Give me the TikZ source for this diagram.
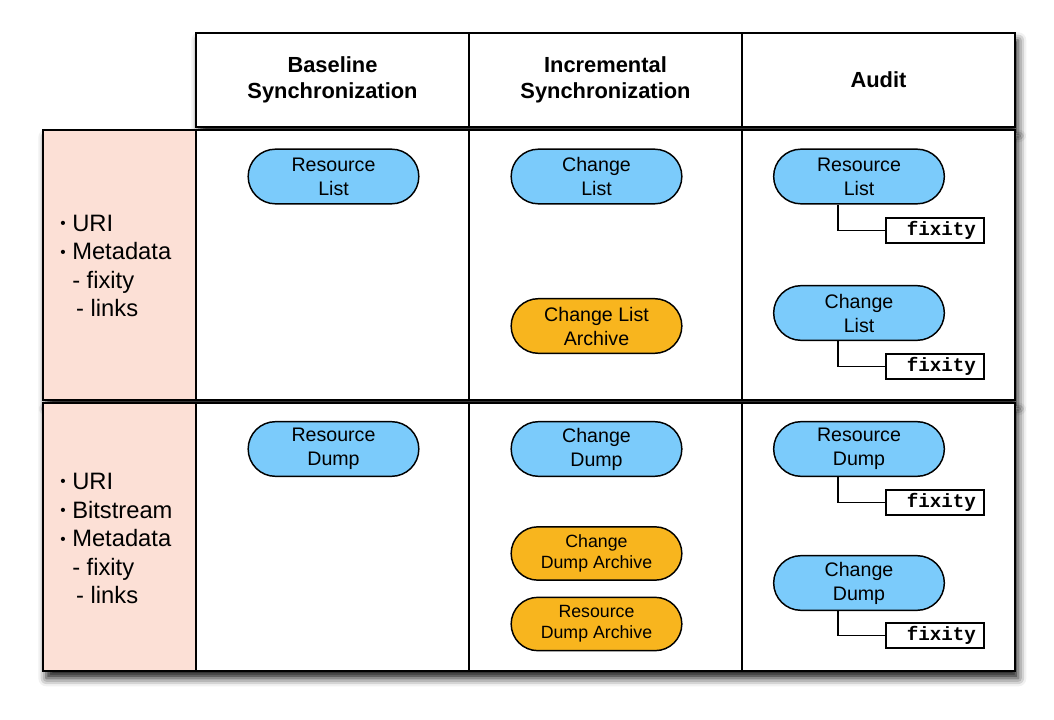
\documentclass[tikz,border=0pt]{standalone}
\usepackage{fontspec}
\setmainfont{Liberation Sans}
\setmonofont{Liberation Mono}
\usetikzlibrary{positioning,shapes.misc,shadows.blur}
\definecolor{RSBlue}{HTML}{7BCBFB}
\definecolor{RSOrange}{HTML}{F8B51E}
\definecolor{RSPink}{HTML}{FCE0D6}
\newcommand{\smallbul}{\raisebox{0.2ex}{\scalebox{0.65}{\textbullet}}}

\begin{document}
\begin{tikzpicture}[x=0.75pt,y=-0.75pt]
  \tikzstyle{rowbox}=[fill=white,blur shadow={shadow xshift=2.5pt,shadow yshift=-5.5pt,
    shadow blur radius=6pt,shadow opacity=90}]
  \tikzstyle{rule}=[draw=black,line width=1.5pt]
  \tikzstyle{headtext}=[align=center,font=\bfseries\fontsize{16.4}{19.5}\selectfont]
  \tikzstyle{sidetext}=[align=left,anchor=west,inner sep=0pt,
    font=\fontsize{17.8}{21.4}\selectfont]
  \tikzstyle{rsdoc}=[rounded rectangle,draw=black,line width=1.1pt,fill=RSBlue,
    minimum width=128pt,minimum height=41pt,inner sep=0pt,align=center,
    font=\fontsize{14.7}{18}\selectfont]
  \tikzstyle{rsarchive}=[rsdoc,fill=RSOrange]
  \tikzstyle{smallarchive}=[rsarchive,minimum height=40pt,font=\fontsize{13.3}{15.75}\selectfont]
  \tikzstyle{fixbox}=[draw=black,line width=1.4pt,fill=white,minimum width=73.5pt,
    minimum height=18.75pt,inner sep=0pt,text width=61.5pt,align=right,
    font=\ttfamily\bfseries\fontsize{14.4}{14}\selectfont]
  \tikzstyle{link}=[draw=black,line width=1.1pt]

  \useasboundingbox (0,0) rectangle (1054,720);

  % table frame
  \path[rowbox] (196,33) rectangle (1015,127);
  \path[rowbox] (43,130) rectangle (1015,400);
  \path[rowbox] (43,403) rectangle (1015,671);
  \fill[RSPink] (43,130) rectangle (196,400);
  \fill[RSPink] (43,403) rectangle (196,671);
  \draw[rule] (196,33) rectangle (1015,127);
  \draw[rule] (43,130) rectangle (1015,400);
  \draw[rule] (43,403) rectangle (1015,671);
  \draw[rule] (469,33) -- (469,127) (742,33) -- (742,127);
  \draw[rule] (196,130) -- (196,400) (469,130) -- (469,400) (742,130) -- (742,400);
  \draw[rule] (196,403) -- (196,671) (469,403) -- (469,671) (742,403) -- (742,671);

  \node[headtext] (hbase) at (332.5,80) {Baseline\\Synchronization};
  \node[headtext] (hinc) at (605.5,80) {Incremental\\Synchronization};
  \node[headtext] (haudit) at (878.5,80) {Audit};

  \node[sidetext] (meta) at (60,266) {\smallbul\ URI\\\smallbul\ Metadata\\
    \phantom{\smallbul}\ - fixity\\\phantom{\smallbul}\ \,- links};
  \node[sidetext] (bits) at (60,538.5) {\smallbul\ URI\\\smallbul\ Bitstream\\
    \smallbul\ Metadata\\\phantom{\smallbul}\ - fixity\\\phantom{\smallbul}\ \,- links};

  % lists
  \node[rsdoc] (brl) at (333.5,176.5) {Resource\\List};
  \node[rsdoc] (icl) at (596.5,176.5) {Change\\List};
  \node[rsarchive] (icla) at (596.5,326) {Change List\\Archive};
  \node[rsdoc] (arl) at (859,176.5) {Resource\\List};
  \node[rsdoc] (acl) at (859,313) {Change\\List};
  \node[fixbox] (farl) at (935,230.5) {fixity};
  \node[fixbox] (facl) at (935,366.5) {fixity};
  \draw[link] ([xshift=-15.75pt]arl.south) |- (farl.west);
  \draw[link] ([xshift=-15.75pt]acl.south) |- (facl.west);

  % dumps
  \node[rsdoc] (brd) at (333.5,449) {Resource\\Dump};
  \node[rsdoc] (icd) at (596.5,449) {Change\\Dump};
  \node[smallarchive] (icda) at (596.5,553.5) {Change\\Dump Archive};
  \node[smallarchive] (irda) at (596.5,624) {Resource\\Dump Archive};
  \node[rsdoc] (ard) at (859,449) {Resource\\Dump};
  \node[rsdoc] (acd) at (859,583) {Change\\Dump};
  \node[fixbox] (fard) at (935,502.5) {fixity};
  \node[fixbox] (facd) at (935,635.5) {fixity};
  \draw[link] ([xshift=-15.75pt]ard.south) |- (fard.west);
  \draw[link] ([xshift=-15.75pt]acd.south) |- (facd.west);
\end{tikzpicture}
\end{document}
